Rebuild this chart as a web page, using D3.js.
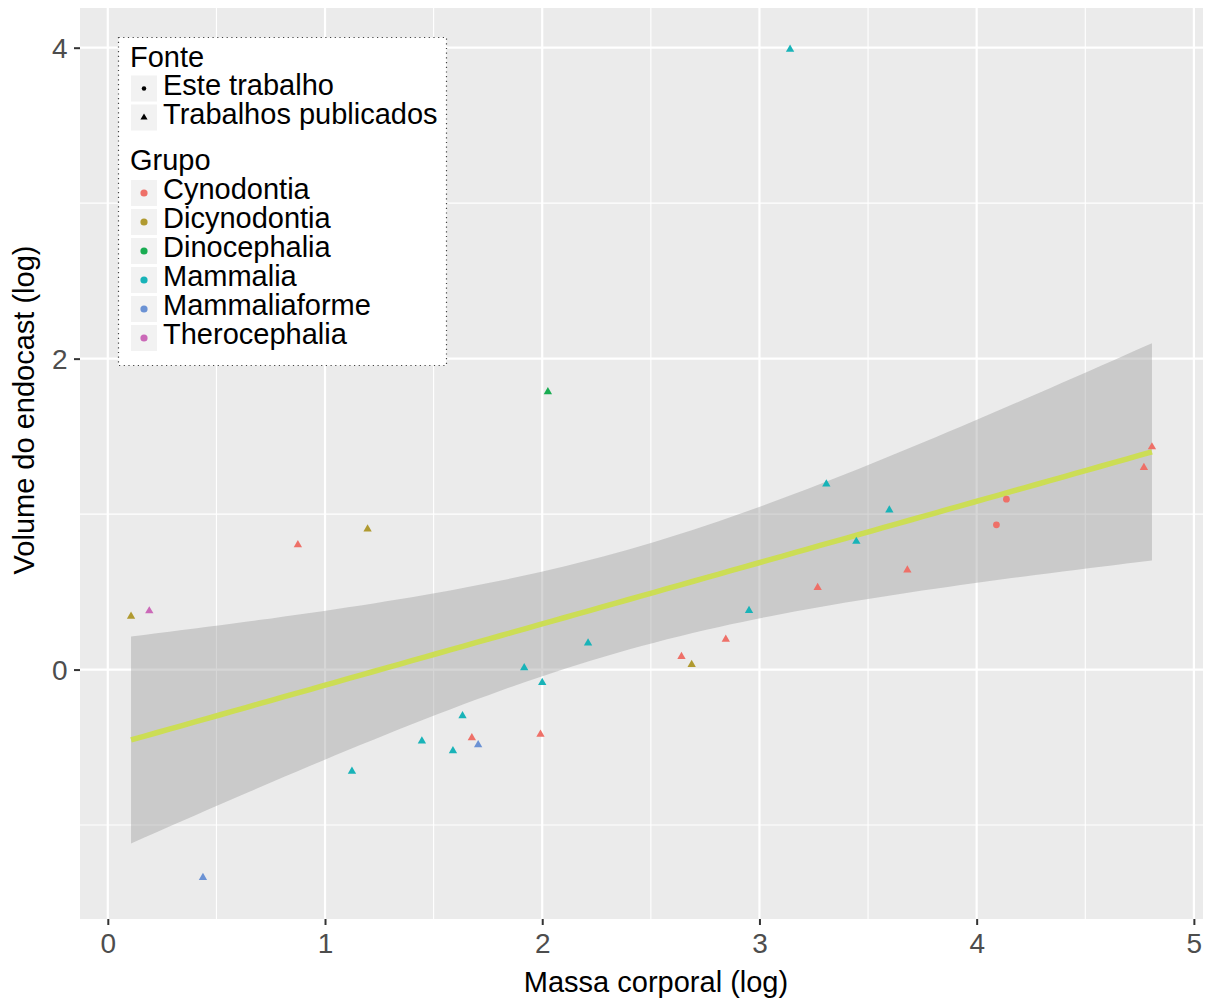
<!DOCTYPE html>
<html>
<head>
<meta charset="utf-8">
<script src="https://cdn.jsdelivr.net/npm/d3@7"></script>
<style>
  html, body { margin: 0; padding: 0; background: #ffffff; }
  svg { display: block; font-family: "Liberation Sans", Arial, Helvetica, sans-serif; }
</style>
</head>
<body>
<svg id="chart" width="1214" height="1003"></svg>
<script>
// Body mass vs endocast volume (both log), per specimen
const massa = [0.107, 0.191, 0.438, 0.875, 1.124, 1.196, 1.446, 1.589, 1.633, 1.676,
               1.705, 1.917, 1.992, 2.000, 2.026, 2.211, 2.641, 2.688, 2.845, 2.952,
               3.141, 3.268, 3.308, 3.446, 3.598, 3.681, 4.091, 4.137, 4.770, 4.807];
const volume = [0.342, 0.377, -1.338, 0.803, -0.655, 0.904, -0.460, -0.522, -0.297, -0.439,
                -0.484, 0.011, -0.417, -0.083, 1.787, 0.171, 0.083, 0.032, 0.195, 0.379,
                3.989, 0.527, 1.193, 0.824, 1.026, 0.640, 0.931, 1.096, 1.299, 1.432];
const grupo = ["Dicynodontia", "Therocephalia", "Mammaliaforme", "Cynodontia", "Mammalia",
               "Dicynodontia", "Mammalia", "Mammalia", "Mammalia", "Cynodontia",
               "Mammaliaforme", "Mammalia", "Cynodontia", "Mammalia", "Dinocephalia",
               "Mammalia", "Cynodontia", "Dicynodontia", "Cynodontia", "Mammalia",
               "Mammalia", "Cynodontia", "Mammalia", "Mammalia", "Mammalia",
               "Cynodontia", "Cynodontia", "Cynodontia", "Cynodontia", "Cynodontia"];
const fonte = ["Trabalhos publicados", "Trabalhos publicados", "Trabalhos publicados", "Trabalhos publicados", "Trabalhos publicados",
               "Trabalhos publicados", "Trabalhos publicados", "Trabalhos publicados", "Trabalhos publicados", "Trabalhos publicados",
               "Trabalhos publicados", "Trabalhos publicados", "Trabalhos publicados", "Trabalhos publicados", "Trabalhos publicados",
               "Trabalhos publicados", "Trabalhos publicados", "Trabalhos publicados", "Trabalhos publicados", "Trabalhos publicados",
               "Trabalhos publicados", "Trabalhos publicados", "Trabalhos publicados", "Trabalhos publicados", "Trabalhos publicados",
               "Trabalhos publicados", "Este trabalho", "Este trabalho", "Trabalhos publicados", "Trabalhos publicados"];

const grupos = ["Cynodontia", "Dicynodontia", "Dinocephalia", "Mammalia", "Mammaliaforme", "Therocephalia"];
const grupoCores = ["#EE7068", "#B09A30", "#19AC52", "#18B3B8", "#6B92D4", "#CB69B8"];
const fontes = ["Este trabalho", "Trabalhos publicados"];
const xTicks = [0, 1, 2, 3, 4, 5];
const yTicks = [0, 2, 4];
const xMinor = [0.5, 1.5, 2.5, 3.5, 4.5];
const yMinor = [-1, 1, 3];

const rows = massa.map((m, i) => ({ x: m, y: volume[i], g: grupo[i], f: fonte[i] }));

const svg = d3.select("#chart");
const panel = { left: 80, right: 1203, top: 8, bottom: 919 };

// continuous scales with 5% padding around the data range
function padded(ext) { const d = (ext[1] - ext[0]) * 0.05; return [ext[0] - d, ext[1] + d]; }
const x = d3.scaleLinear().domain(padded(d3.extent(massa))).range([panel.left, panel.right]);
const y = d3.scaleLinear().domain(padded(d3.extent(volume))).range([panel.bottom, panel.top]);
const color = d3.scaleOrdinal().domain(grupos).range(grupoCores);
const shape = d3.scaleOrdinal().domain(fontes).range([d3.symbolCircle, d3.symbolTriangle]);
const symSize = d3.scaleOrdinal().domain(fontes).range([36, 30]);

// panel background and grid
svg.append("rect").attr("x", panel.left).attr("y", panel.top)
  .attr("width", panel.right - panel.left).attr("height", panel.bottom - panel.top)
  .attr("fill", "#EBEBEB");
const grid = svg.append("g");
grid.selectAll(".xm").data(xMinor).join("line")
  .attr("x1", d => x(d)).attr("x2", d => x(d)).attr("y1", panel.top).attr("y2", panel.bottom)
  .attr("stroke", "#fff").attr("stroke-width", 1.1);
grid.selectAll(".ym").data(yMinor).join("line")
  .attr("y1", d => y(d)).attr("y2", d => y(d)).attr("x1", panel.left).attr("x2", panel.right)
  .attr("stroke", "#fff").attr("stroke-width", 1.1);
grid.selectAll(".xM").data(xTicks).join("line")
  .attr("x1", d => x(d)).attr("x2", d => x(d)).attr("y1", panel.top).attr("y2", panel.bottom)
  .attr("stroke", "#fff").attr("stroke-width", 2.2);
grid.selectAll(".yM").data(yTicks).join("line")
  .attr("y1", d => y(d)).attr("y2", d => y(d)).attr("x1", panel.left).attr("x2", panel.right)
  .attr("stroke", "#fff").attr("stroke-width", 2.2);

// ordinary least squares fit with 95% confidence band
const n = rows.length;
const mx = d3.mean(massa), my = d3.mean(volume);
const sxx = d3.sum(massa, v => (v - mx) ** 2);
const sxy = d3.sum(rows, r => (r.x - mx) * (r.y - my));
const slope = sxy / sxx;
const intercept = my - slope * mx;
const sse = d3.sum(rows, r => (r.y - (intercept + slope * r.x)) ** 2);
const se = Math.sqrt(sse / (n - 2));
const tCrit = 2.0484; // Student t, 0.975 quantile, 28 degrees of freedom
const [x0, x1] = d3.extent(massa);
const fit = d3.range(0, 81).map(k => {
  const xv = x0 + (x1 - x0) * k / 80;
  const yv = intercept + slope * xv;
  const h = tCrit * se * Math.sqrt(1 / n + (xv - mx) ** 2 / sxx);
  return { x: xv, y: yv, lo: yv - h, hi: yv + h };
});
svg.append("path").datum(fit)
  .attr("d", d3.area().x(d => x(d.x)).y0(d => y(d.lo)).y1(d => y(d.hi)))
  .attr("fill", "#999999").attr("fill-opacity", 0.4);
svg.append("path").datum(fit)
  .attr("d", d3.line().x(d => x(d.x)).y(d => y(d.y)))
  .attr("fill", "none").attr("stroke", "#CCDD55").attr("stroke-width", 5.5);

// specimens
svg.append("g").selectAll("path").data(rows).join("path")
  .attr("transform", d => `translate(${x(d.x)},${y(d.y)})`)
  .attr("d", d => d3.symbol(shape(d.f), symSize(d.f))())
  .attr("fill", d => color(d.g));

// axes
const axisColor = "#333333";
const xAxis = svg.append("g").attr("transform", `translate(0,${panel.bottom})`)
  .call(d3.axisBottom(x).tickValues(xTicks).tickSize(6).tickPadding(8).tickFormat(d3.format("d")));
const yAxis = svg.append("g").attr("transform", `translate(${panel.left},0)`)
  .call(d3.axisLeft(y).tickValues(yTicks).tickSize(6).tickPadding(6.5).tickFormat(d3.format("d")));
[xAxis, yAxis].forEach(a => {
  a.select(".domain").remove();
  a.selectAll(".tick line").attr("stroke", axisColor).attr("stroke-width", 2);
  a.selectAll(".tick text").attr("fill", "#4D4D4D").attr("font-size", 28)
    .attr("font-family", "Liberation Sans, Arial, sans-serif");
});
yAxis.selectAll(".tick text").attr("dy", "0.36em");
xAxis.selectAll(".tick text").attr("dy", "0.71em");

svg.append("text").attr("x", 656).attr("y", 992).attr("text-anchor", "middle")
  .attr("font-size", 29).attr("fill", "#000").text("Massa corporal (log)");
svg.append("text").attr("transform", "translate(34,410) rotate(-90)").attr("text-anchor", "middle")
  .attr("font-size", 29).attr("fill", "#000").text("Volume do endocast (log)");

// legend
const lg = svg.append("g");
lg.append("rect").attr("x", 118.5).attr("y", 37.5).attr("width", 328).attr("height", 328)
  .attr("fill", "#ffffff").attr("stroke", "#444").attr("stroke-width", 1.2)
  .attr("stroke-dasharray", "1.2 3.5");
const fs = 29;
lg.append("text").attr("x", 130).attr("y", 67).attr("font-size", fs).text("Fonte");
fontes.forEach((f, i) => {
  const cy = 88.5 + i * 29;
  lg.append("rect").attr("x", 131).attr("y", cy - 13).attr("width", 26).attr("height", 26).attr("fill", "#F2F2F2");
  lg.append("path").attr("transform", `translate(144,${cy})`)
    .attr("d", d3.symbol(shape(f), i === 0 ? 16 : 22)()).attr("fill", "#000");
  lg.append("text").attr("x", 163).attr("y", cy + 6).attr("font-size", fs).text(f);
});
lg.append("text").attr("x", 130).attr("y", 170).attr("font-size", fs).text("Grupo");
grupos.forEach((g, i) => {
  const cy = 193 + i * 29;
  lg.append("rect").attr("x", 131).attr("y", cy - 13).attr("width", 26).attr("height", 26).attr("fill", "#F2F2F2");
  lg.append("circle").attr("cx", 144).attr("cy", cy).attr("r", 3.6).attr("fill", color(g));
  lg.append("text").attr("x", 163).attr("y", cy + 6).attr("font-size", fs).text(g);
});
</script>
</body>
</html>
